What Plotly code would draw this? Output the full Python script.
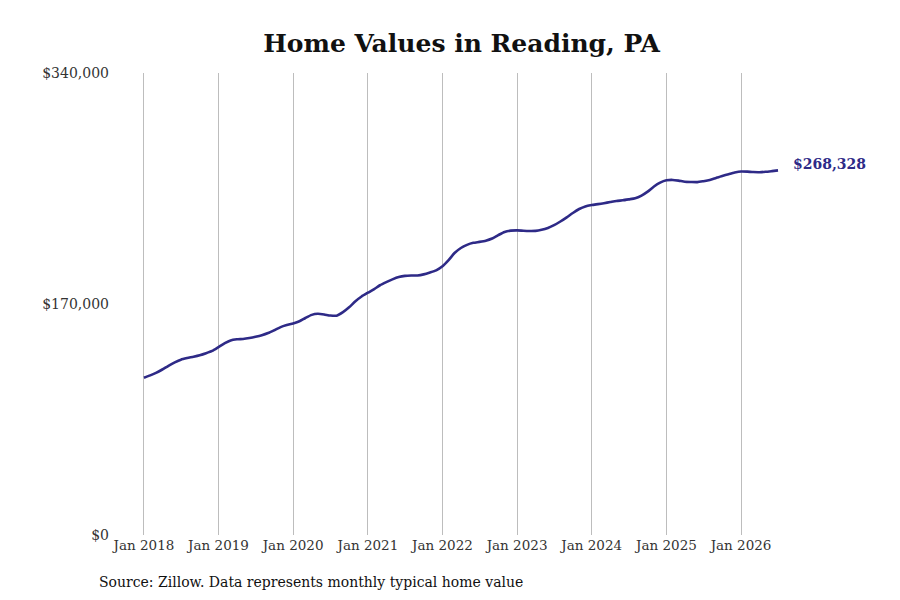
import plotly.graph_objects as go
import pandas as pd

dates = pd.date_range("2018-01-01", "2026-07-01", freq="MS")
values = [
    115700, 117500, 119300, 121800, 124500, 127000, 129000, 130200, 131200, 132300, 133800, 135500,
    138300, 141200, 143200, 144000, 144300, 145000, 145900, 147000, 148600, 150700, 153000, 154500,
    155700, 157300, 159700, 162000, 162800, 162300, 161500, 161400, 164000, 167600, 172000, 175500,
    178300, 181000, 183800, 186100, 188100, 189800, 190700, 191000, 191000, 191800, 193200, 194800,
    197800, 202500, 207500, 211200, 213500, 215000, 215700, 216600, 218200, 220700, 223000, 224000,
    224200, 223900, 223700, 223800, 224600, 226000, 228000, 230700, 233800, 237000, 239900, 241800,
    242800, 243500, 244200, 245000, 245800, 246300, 247000, 247800, 249800, 252700, 256500, 259300,
    261000, 261300, 260800, 260000, 259800, 259700, 260400, 261300, 262800, 264200, 265500, 266700,
    267500, 267400, 267100, 267000, 267300, 267800, 268328,
]
x_ticks = [f"{yr}-01-01" for yr in range(2018, 2027)]
y_ticks = [0, 170000, 340000]
y_tick_labels = ["$0", "$170,000", "$340,000"]
title = "Home Values in Reading, PA"
source = "Source: Zillow. Data represents monthly typical home value"

color = "rgb(46,42,135)"
font = "DejaVu Serif"

fig = go.Figure()
fig.add_trace(go.Scatter(
    x=dates, y=values, mode="lines",
    line=dict(color=color, width=2.6, shape="spline", smoothing=0.6),
    hoverinfo="skip", showlegend=False,
))

fig.add_annotation(
    x=dates[-1], y=values[-1], xref="x", yref="y",
    text="<b>$" + f"{values[-1]:,}" + "</b>",
    showarrow=False, xanchor="left", yanchor="middle", xshift=13, yshift=6,
    font=dict(family=font, size=14, color=color),
)
fig.add_annotation(
    x=-0.0169, y=-0.1017, xref="paper", yref="paper",
    text=source, showarrow=False, xanchor="left", yanchor="middle",
    font=dict(family=font, size=14, color="#111"),
)

fig.update_layout(
    width=900, height=600,
    paper_bgcolor="white", plot_bgcolor="white",
    margin=dict(l=110, r=20, t=73, b=65),
    title=dict(text="<b>" + title + "</b>", x=0.5128, xanchor="center", y=0.928, yanchor="middle",
               font=dict(family=font, size=25, color="#111")),
    font=dict(family=font, size=13, color="#333"),
    xaxis=dict(
        type="date", range=["2017-07-19", "2027-11-12"],
        tickvals=x_ticks, tickformat="%b %Y",
        showgrid=True, gridcolor="#bdbdbd", gridwidth=1,
        showline=False, zeroline=False, ticks="", ticklabelstandoff=0,
        tickfont=dict(family=font, size=13.5, color="#333"),
    ),
    yaxis=dict(
        range=[0, 340000], tickvals=y_ticks, ticktext=y_tick_labels,
        showgrid=False, zeroline=False, showline=False, ticks="",
        tickfont=dict(family=font, size=14, color="#333"),
    ),
)

fig.write_html("out.html", config={"displayModeBar": False},
               post_script="document.body.style.margin='0';")
